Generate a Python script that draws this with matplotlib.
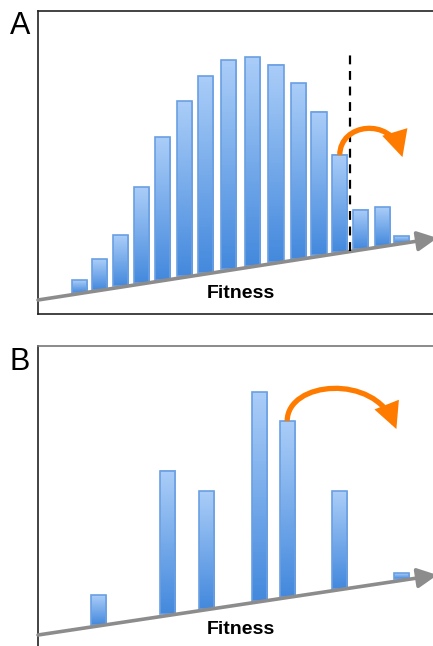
import matplotlib
matplotlib.use("Agg")
import matplotlib.pyplot as plt
import numpy as np
from matplotlib.colors import LinearSegmentedColormap
from matplotlib.patches import FancyArrowPatch, Rectangle
from matplotlib.path import Path

plt.rcParams["font.family"] = ["Liberation Sans", "DejaVu Sans"]

# panel A: fitness position of each bar and its height above the fitness axis
fit_a = [41, 60.5, 81.5, 102, 123.5, 144.5, 165.5, 188.5, 212.5, 235.5,
         257.5, 278, 298.5, 319, 340.5, 359.5]
freq_a = [12.6, 30.5, 51, 96, 142.6, 175, 197, 209, 208.6, 197,
          175.6, 143.4, 97, 39, 38.5, 7]
# panel B: surviving lineages after the bottleneck
fit_b = [60, 128.5, 166.5, 219, 246.5, 298.5, 359.5]
freq_b = [30, 143.5, 117.7, 208.7, 175.5, 97.6, 6]

W, H = 433, 646
BAR_W = 15
grad = LinearSegmentedColormap.from_list("bar", ["#4489dd", "#aacdf8"])
EDGE = "#6a9fe2"
ORANGE = "#ff7b00"
GRAY = "#8c8c8c"


def panel(ax, fit, freq, base0, base1, xmax, ymax):
    ax.set_xlim(0, xmax)
    ax.set_ylim(0, ymax)
    ax.set_xticks([])
    ax.set_yticks([])
    slope = (base1 - base0) / xmax

    def base(x):
        return base0 + slope * x

    for x, h in zip(fit, freq):
        b = base(x) + 1
        ax.imshow(np.linspace(0, 1, 64).reshape(-1, 1), cmap=grad, origin="lower",
                  extent=[x - BAR_W / 2, x + BAR_W / 2, b, b + h],
                  aspect="auto", zorder=2)
        ax.add_patch(Rectangle((x - BAR_W / 2, b), BAR_W, h, fill=False,
                               ec=EDGE, lw=1.2, zorder=3))
    # fitness axis, tilted, with arrow head
    ax.add_patch(FancyArrowPatch((0, base0), (xmax, base1), arrowstyle="-|>",
                                 mutation_scale=30, lw=2.6, color=GRAY,
                                 shrinkA=0, shrinkB=0, zorder=4, clip_on=False))
    ax.text(201, base(201) - 25, "Fitness", ha="center", va="center",
            fontsize=14, fontweight="bold")
    ax.set_xlim(0, xmax)
    ax.set_ylim(0, ymax)
    return base


def jump(ax, x0, y0, verts):
    pts = [(x0, y0)] + verts
    path = Path(pts, [Path.MOVETO, Path.CURVE4, Path.CURVE4, Path.CURVE4])
    ax.add_patch(FancyArrowPatch(path=path, arrowstyle="-|>", mutation_scale=32,
                                 lw=3.8, color=ORANGE, zorder=5,
                                 joinstyle="miter", capstyle="butt"))


fig = plt.figure(figsize=(W / 100, H / 100), dpi=100)

# panel A
ax_a = fig.add_axes([38 / W, 1 - 314 / H, 395 / W + 0.01, 303 / H])
base_a = panel(ax_a, fit_a, freq_a, 14, 76, 395, 303)
ax_a.spines["right"].set_visible(False)
for s in ("left", "bottom", "top"):
    ax_a.spines[s].set_color("#222222")
    ax_a.spines[s].set_linewidth(1.2)
cut = 309
ax_a.plot([cut, cut], [base_a(cut), 261], ls=(0, (4, 3)), color="black",
          lw=1.6, zorder=4)
x13, h13 = fit_a[12], freq_a[12]
top13 = base_a(x13) + 1 + h13
jump(ax_a, x13, top13, [(x13, top13 + 32), (x13 + 50, top13 + 38),
                        (x13 + 62, top13 - 2)])
fig.text(10 / W, 1 - 26 / H, "A", fontsize=22, va="center", ha="left")

# panel B
ax_b = fig.add_axes([38 / W, 0, 395 / W + 0.01, 300 / H])
base_b = panel(ax_b, fit_b, freq_b, 11, 71, 395, 300)
ax_b.spines["right"].set_visible(False)
ax_b.spines["bottom"].set_visible(False)
ax_b.spines["left"].set_color("#222222")
ax_b.spines["left"].set_linewidth(1.2)
ax_b.spines["top"].set_color("#777777")
ax_b.spines["top"].set_linewidth(1.2)
x5, h5 = fit_b[4], freq_b[4]
top5 = base_b(x5) + 1 + h5
jump(ax_b, x5, top5, [(x5, top5 + 40), (x5 + 86, top5 + 48),
                      (x5 + 108, top5 - 8)])
fig.text(10 / W, 1 - 362 / H, "B", fontsize=22, va="center", ha="left")

fig.savefig("out.png", dpi=100)
